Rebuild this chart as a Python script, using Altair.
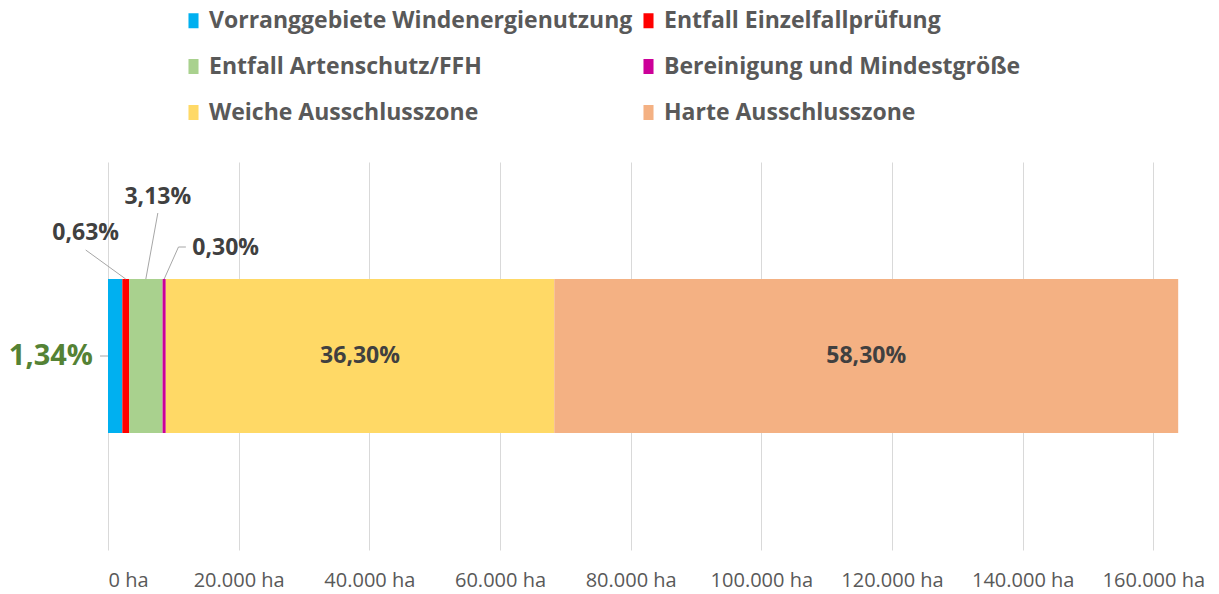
import altair as alt
import pandas as pd

# ---- data ----
categories = [
    "Vorranggebiete Windenergienutzung",
    "Entfall Einzelfallprüfung",
    "Entfall Artenschutz/FFH",
    "Bereinigung und Mindestgröße",
    "Weiche Ausschlusszone",
    "Harte Ausschlusszone",
]
areas_ha = [2195, 1032, 5127, 491, 59460, 95500]
share_labels = ["1,34%", "0,63%", "3,13%", "0,30%", "36,30%", "58,30%"]
colors = ["#00B0F0", "#FF0000", "#A9D18E", "#CC0099", "#FFD966", "#F4B183"]
tick_values = [0, 20000, 40000, 60000, 80000, 100000, 120000, 140000, 160000]

# ---- layout / style ----
W, H = 1078, 388
DMAX = 165000
FONT = "Open Sans"
LABEL_COLOR = "#404040"
AXIS_COLOR = "#595959"
LEADER = "#A6A6A6"

df = pd.DataFrame({
    "cat": categories,
    "area": areas_ha,
    "label": share_labels,
    "order": list(range(len(categories))),
    "row": ["Fläche"] * len(categories),
})

xs = alt.Scale(domain=[0, DMAX], nice=False, zero=True)

base = (
    alt.Chart(df)
    .transform_window(cum="sum(area)", sort=[alt.SortField("order")], frame=[None, 0])
    .transform_calculate(start="datum.cum - datum.area", mid="datum.cum - datum.area / 2")
)

bars = base.mark_bar(size=154).encode(
    x=alt.X(
        "start:Q",
        scale=xs,
        title=None,
        axis=alt.Axis(
            values=tick_values,
            labelExpr="datum.value == 0 ? '0 ha' : format(datum.value / 1000, 'd') + '.000 ha'",
            domain=False,
            ticks=False,
            grid=True,
            gridColor="#D9D9D9",
            gridWidth=1,
            labelFont=FONT,
            labelFontSize=20,
            labelColor=AXIS_COLOR,
            labelPadding=20,
        ),
    ),
    x2="cum:Q",
    y=alt.Y("row:N", axis=None),
    color=alt.Color(
        "cat:N",
        scale=alt.Scale(domain=categories, range=colors),
        sort=categories,
        legend=alt.Legend(
            title=None,
            orient="none",
            legendX=74,
            legendY=-153,
            columns=2,
            direction="horizontal",
            symbolType="M-0.67,-1H0.67V1H-0.67Z",
            symbolSize=225,
            symbolStrokeWidth=0,
            labelFont=FONT,
            labelFontSize=23,
            labelFontWeight="bold",
            labelColor=AXIS_COLOR,
            labelOffset=4,
            rowPadding=22,
            columnPadding=4,
            labelLimit=700,
        ),
    ),
)

# labels inside the two large segments
inside = base.transform_filter("datum.order >= 4").mark_text(
    font=FONT, fontSize=23, fontWeight="bold", color=LABEL_COLOR
).encode(x=alt.X("mid:Q", scale=xs), y=alt.Y("row:N", axis=None), text="label:N")

# green label left of the bar
first = base.transform_filter("datum.order == 0").mark_text(
    font=FONT, fontSize=29, fontWeight="bold", color="#548235", align="right", dx=-15
).encode(x=alt.X("start:Q", scale=xs), y=alt.Y("row:N", axis=None), text="label:N")

layers = [bars, inside, first]

k = DMAX / W  # ha per pixel, to place leader ends in pixels

first_leader = base.transform_filter("datum.order == 0").transform_calculate(
    xa=f"datum.start - 8 * {k}"
).mark_rule(color=LEADER, strokeWidth=1).encode(
    x=alt.X("xa:Q", scale=xs), x2="start:Q", y=alt.value(H / 2), y2=alt.value(H / 2)
)
layers.append(first_leader)

# small outside labels: (order, text dx, text y, leader polyline as (dx, y) in px)
annots = [
    (1, -40, 71, [(0, 117), (-40, 88)]),
    (2, 12, 35, [(0, 117), (12, 51)]),
    (3, 61.5, 86, [(0, 117), (14.3, 85), (21.7, 85)]),
]
for order, tdx, ty, pts in annots:
    sub = base.transform_filter(f"datum.order == {order}")
    layers.append(
        sub.mark_text(font=FONT, fontSize=23, fontWeight="bold", color=LABEL_COLOR, dx=tdx)
        .encode(x=alt.X("mid:Q", scale=xs), y=alt.value(ty), text="label:N")
    )
    for (dx1, y1), (dx2, y2) in zip(pts[:-1], pts[1:]):
        layers.append(
            sub.transform_calculate(xa=f"datum.mid + {dx1} * {k}", xb=f"datum.mid + {dx2} * {k}")
            .mark_rule(color=LEADER, strokeWidth=1)
            .encode(x=alt.X("xa:Q", scale=xs), x2="xb:Q", y=alt.value(y1), y2=alt.value(y2))
        )

chart = (
    alt.layer(*layers)
    .properties(
        width=W,
        height=H,
        autosize=alt.AutoSizeParams(type="none"),
        padding={"left": 100, "top": 154, "right": 25, "bottom": 44},
    )
    .configure_view(stroke=None)
)

chart.save("out.html", embed_options={"renderer": "svg", "actions": False})
